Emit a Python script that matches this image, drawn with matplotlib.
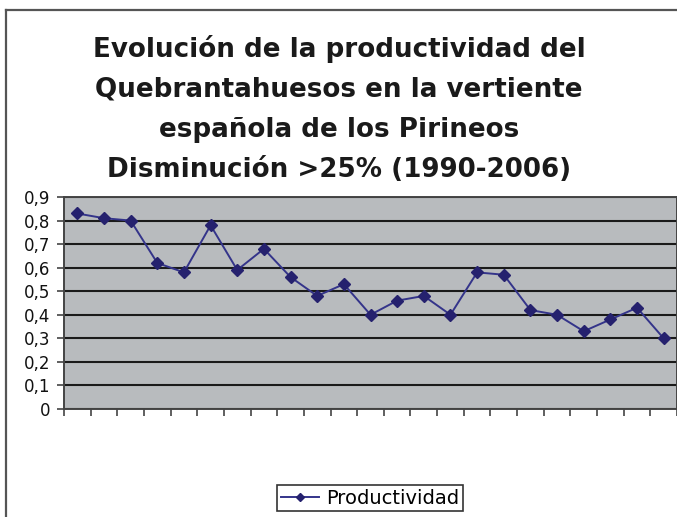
import matplotlib
matplotlib.use("Agg")
import matplotlib.pyplot as plt
from matplotlib.lines import Line2D
from matplotlib.ticker import FuncFormatter, MultipleLocator

# ---- data ----
categories = list(range(1, 24))
productividad = [0.83, 0.81, 0.80, 0.62, 0.58, 0.78, 0.59, 0.68, 0.56, 0.48,
                 0.53, 0.40, 0.46, 0.48, 0.40, 0.58, 0.57, 0.42, 0.40, 0.33,
                 0.38, 0.43, 0.30]
series_name = "Productividad"
title_lines = ["Evolución de la productividad del",
               "Quebrantahuesos en la vertiente",
               "española de los Pirineos",
               "Disminución >25% (1990-2006)"]

plt.rcParams['font.family'] = ['DejaVu Sans']

W, H = 677, 517
fig = plt.figure(figsize=(W / 100, H / 100), dpi=100)
fig.patch.set_facecolor("white")

# outer chart border (top and left visible)
fig.add_artist(Line2D([6 / W, 1], [1 - 10 / H, 1 - 10 / H], transform=fig.transFigure,
                      color="#555555", lw=1.6))
fig.add_artist(Line2D([6 / W, 6 / W], [0, 1 - 10 / H], transform=fig.transFigure,
                      color="#555555", lw=1.6))

left, right, top, bottom = 64, 677, 197, 409
ax = fig.add_axes([left / W, 1 - bottom / H, (right - left) / W, (bottom - top) / H])
ax.set_facecolor("#B8BBBE")

x = list(range(len(categories)))
ax.plot(x, productividad, color="#34348A", lw=1.4, marker="D", markersize=6.3,
        markerfacecolor="#25216E", markeredgecolor="#25216E", label=series_name, zorder=3)

ax.set_xlim(-0.5, len(categories) - 0.5)
ax.set_ylim(0, 0.9)
ax.yaxis.set_major_locator(MultipleLocator(0.1))
ax.yaxis.set_major_formatter(FuncFormatter(
    lambda v, p: "0" if abs(v) < 1e-9 else f"{v:.1f}".replace(".", ",")))
ax.set_xticks([i - 0.5 for i in range(len(categories) + 1)])
ax.set_xticklabels([])
ax.grid(axis="y", color="#1a1a1a", lw=1.5)
ax.set_axisbelow(True)
for s in ax.spines.values():
    s.set_color("#444444")
    s.set_linewidth(1.4)
ax.tick_params(axis="both", direction="out", length=5, width=1.2, color="#444444",
               labelsize=12, labelcolor="#111111")
ax.tick_params(axis="y", pad=5)

# title, one line at a time (baselines 40 px apart)
for i, line in enumerate(title_lines):
    fig.text(339 / W, 1 - (57 + 40 * i) / H, line, ha="center", va="baseline",
             fontsize=18.8, fontweight="bold", color="#1a1a1a")

leg = fig.legend(loc="center", bbox_to_anchor=(370 / W, 1 - 498 / H), fontsize=14,
                 frameon=True, fancybox=False, framealpha=1, edgecolor="#333333",
                 handlelength=2.0, borderpad=0.2, handletextpad=0.35, markerscale=0.7,
                 borderaxespad=0)
leg.get_frame().set_linewidth(1.2)

fig.savefig("out.png", dpi=100)
